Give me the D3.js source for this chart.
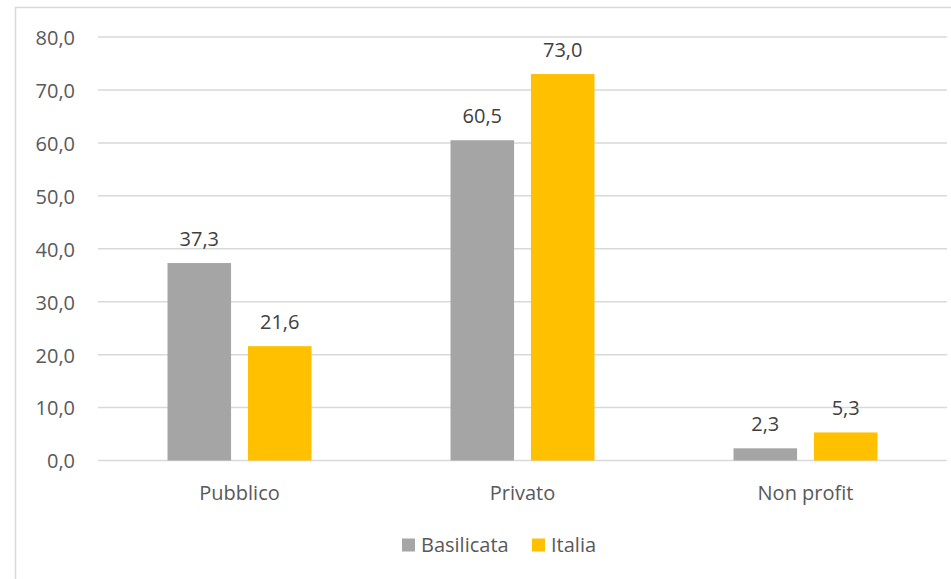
<!DOCTYPE html>
<html><head><meta charset="utf-8">
<script src="https://cdn.jsdelivr.net/npm/d3@7"></script>
<style>body{margin:0;background:#fff}svg{display:block}text{font-family:"Open Sans",sans-serif}</style>
</head><body><svg id="c" width="951" height="579"></svg>
<script>
const categories = ["Pubblico", "Privato", "Non profit"];
const seriesNames = ["Basilicata", "Italia"];
const basilicata = [37.3, 60.5, 2.3];
const italia = [21.6, 73.0, 5.3];
const yTicks = [0, 10, 20, 30, 40, 50, 60, 70, 80];
const colors = ["#a5a5a5", "#ffc000"];

const svg = d3.select("#c");
const fmt = v => d3.format(".1f")(v).replace(".", ",");

svg.append("rect").attr("x", 15.5).attr("y", 7.5).attr("width", 960).attr("height", 600)
  .attr("fill", "none").attr("stroke", "#d9d9d9").attr("stroke-width", 1.5);

const x = d3.scaleBand().domain(categories).range([98, 947]).paddingInner(0).paddingOuter(0);
const xs = d3.scaleBand().domain(seriesNames).range([69.5, 283 - 69.5]).paddingInner(0.21);
const y = d3.scaleLinear().domain([0, 80]).range([460.5, 37]);

const grid = svg.append("g");
grid.selectAll("line").data(yTicks).join("line")
  .attr("x1", 98).attr("x2", 947).attr("y1", d => y(d)).attr("y2", d => y(d))
  .attr("stroke", "#d9d9d9").attr("stroke-width", 1.5);

const yAxis = svg.append("g").attr("transform", "translate(75,0)")
  .call(d3.axisLeft(y).tickValues(yTicks).tickFormat(fmt).tickSize(0).tickPadding(0));
yAxis.select(".domain").remove();
yAxis.selectAll("text").attr("font-size", 20).attr("dy", "0.37em").attr("fill", "#595959").attr("font-family", "Open Sans");

const xAxis = svg.append("g").attr("transform", "translate(0,460.5)")
  .call(d3.axisBottom(x).tickSize(0).tickPadding(25));
xAxis.select(".domain").remove();
xAxis.selectAll("text").attr("font-size", 20).attr("fill", "#595959").attr("font-family", "Open Sans");

const data = [basilicata, italia];
const groups = svg.append("g");
seriesNames.forEach((s, si) => {
  const g = groups.append("g");
  g.selectAll("rect").data(categories).join("rect")
    .attr("x", c => x(c) + xs(s)).attr("width", xs.bandwidth())
    .attr("y", (c, i) => y(data[si][i])).attr("height", (c, i) => y(0) - y(data[si][i]))
    .attr("fill", colors[si]);
  g.selectAll("text").data(categories).join("text")
    .attr("x", c => x(c) + xs(s) + xs.bandwidth() / 2)
    .attr("y", (c, i) => y(data[si][i]) - 17)
    .attr("text-anchor", "middle").attr("font-size", 20).attr("fill", "#404040")
    .text((c, i) => fmt(data[si][i]));
});

const legend = svg.append("g");
const lx = [402, 532];
seriesNames.forEach((s, i) => {
  legend.append("rect").attr("x", lx[i]).attr("y", 538.5).attr("width", 13).attr("height", 13).attr("fill", colors[i]);
  legend.append("text").attr("x", lx[i] + 19).attr("y", 552).attr("font-size", 20).attr("fill", "#595959").text(s);
});
</script></body></html>
